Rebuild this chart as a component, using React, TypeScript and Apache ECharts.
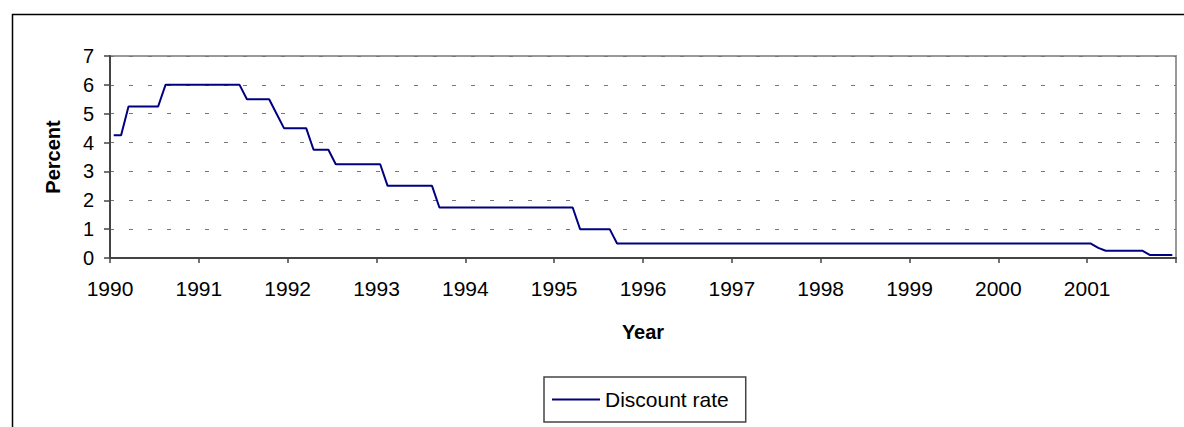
import React, { useEffect, useRef } from "react";
import * as echarts from "echarts";

const yearTicks = ["1990", "1991", "1992", "1993", "1994", "1995", "1996", "1997", "1998", "1999", "2000", "2001"];
const yTicks = [0, 1, 2, 3, 4, 5, 6, 7];
const seriesName = "Discount rate";

// Monthly discount rate (%), Jan..Dec of each year
const rates1990 = [4.25, 4.25, 5.25, 5.25, 5.25, 5.25, 5.25, 6, 6, 6, 6, 6];
const rates1991 = [6, 6, 6, 6, 6, 6, 5.5, 5.5, 5.5, 5.5, 5, 4.5];
const rates1992 = [4.5, 4.5, 4.5, 3.75, 3.75, 3.75, 3.25, 3.25, 3.25, 3.25, 3.25, 3.25];
const rates1993 = [3.25, 2.5, 2.5, 2.5, 2.5, 2.5, 2.5, 2.5, 1.75, 1.75, 1.75, 1.75];
const rates1994 = [1.75, 1.75, 1.75, 1.75, 1.75, 1.75, 1.75, 1.75, 1.75, 1.75, 1.75, 1.75];
const rates1995 = [1.75, 1.75, 1.75, 1, 1, 1, 1, 1, 0.5, 0.5, 0.5, 0.5];
const rates1996 = [0.5, 0.5, 0.5, 0.5, 0.5, 0.5, 0.5, 0.5, 0.5, 0.5, 0.5, 0.5];
const rates1997 = [0.5, 0.5, 0.5, 0.5, 0.5, 0.5, 0.5, 0.5, 0.5, 0.5, 0.5, 0.5];
const rates1998 = [0.5, 0.5, 0.5, 0.5, 0.5, 0.5, 0.5, 0.5, 0.5, 0.5, 0.5, 0.5];
const rates1999 = [0.5, 0.5, 0.5, 0.5, 0.5, 0.5, 0.5, 0.5, 0.5, 0.5, 0.5, 0.5];
const rates2000 = [0.5, 0.5, 0.5, 0.5, 0.5, 0.5, 0.5, 0.5, 0.5, 0.5, 0.5, 0.5];
const rates2001 = [0.5, 0.35, 0.25, 0.25, 0.25, 0.25, 0.25, 0.25, 0.1, 0.1, 0.1, 0.1];

const allYears = [
  rates1990, rates1991, rates1992, rates1993, rates1994, rates1995,
  rates1996, rates1997, rates1998, rates1999, rates2000, rates2001,
];

const FONT = "'Liberation Sans', Arial, sans-serif";

export default function App() {
  const ref = useRef<HTMLDivElement>(null);

  useEffect(() => {
    if (!ref.current) return;
    const chart = echarts.init(ref.current, undefined, { renderer: "svg" });
    const monthly = allYears.flat();
    const data = monthly.map((v, i) => [i + 0.5, v]);
    const nMonths = yearTicks.length * 12;

    chart.setOption({
      animation: false,
      backgroundColor: "#ffffff",
      textStyle: { fontFamily: FONT, color: "#000" },
      graphic: [
        {
          type: "rect",
          shape: { x: 12.5, y: 14.5, width: 1300, height: 600 },
          style: { fill: "none", stroke: "#000", lineWidth: 1.5 },
          silent: true,
        },
      ],
      grid: {
        left: 110,
        top: 56,
        right: 8,
        bottom: 169,
        show: true,
        borderColor: "#999",
        borderWidth: 2,
        backgroundColor: "transparent",
      },
      legend: {
        left: 544,
        top: 377,
        padding: [12, 17, 12, 8],
        icon: "rect",
        itemWidth: 48,
        itemHeight: 2,
        itemStyle: { color: "#000080" },
        borderColor: "#444",
        borderWidth: 1.5,
        borderRadius: 0,
        textStyle: { fontSize: 21, fontFamily: FONT, color: "#000" },
        data: [seriesName],
      },
      xAxis: {
        type: "value",
        min: 0,
        max: nMonths,
        interval: 12,
        name: "Year",
        nameLocation: "middle",
        nameGap: 64,
        nameTextStyle: { fontSize: 20, fontWeight: "bold", fontFamily: FONT, color: "#000" },
        axisLine: { show: true, onZero: false, lineStyle: { color: "#444", width: 2 } },
        axisTick: { show: true, length: 5, lineStyle: { color: "#444", width: 1.5 } },
        axisLabel: {
          fontSize: 21,
          fontFamily: FONT,
          color: "#000",
          margin: 20,
          formatter: (v: number) => {
            const idx = Math.round(v / 12);
            return idx < yearTicks.length ? yearTicks[idx] : "";
          },
        },
        splitLine: { show: false },
      },
      yAxis: {
        type: "value",
        min: yTicks[0],
        max: yTicks[yTicks.length - 1],
        interval: 1,
        name: "Percent",
        nameLocation: "middle",
        nameGap: 47,
        nameTextStyle: { fontSize: 20, fontWeight: "bold", fontFamily: FONT, color: "#000" },
        axisLine: { show: true, lineStyle: { color: "#444", width: 2 } },
        axisTick: { show: true, length: 6, lineStyle: { color: "#444", width: 1.5 } },
        axisLabel: { fontSize: 20, fontFamily: FONT, color: "#000", margin: 16 },
        splitLine: {
          show: true,
          lineStyle: { color: "#777", width: 1, type: [4, 15] },
        },
      },
      series: [
        {
          name: seriesName,
          type: "line",
          data,
          symbol: "none",
          showSymbol: false,
          lineStyle: { color: "#000080", width: 2 },
          itemStyle: { color: "#000080" },
        },
      ],
    });

    return () => chart.dispose();
  }, []);

  return (
    <div
      ref={ref}
      style={{ position: "fixed", left: 0, top: 0, width: 1184, height: 427 }}
    />
  );
}
